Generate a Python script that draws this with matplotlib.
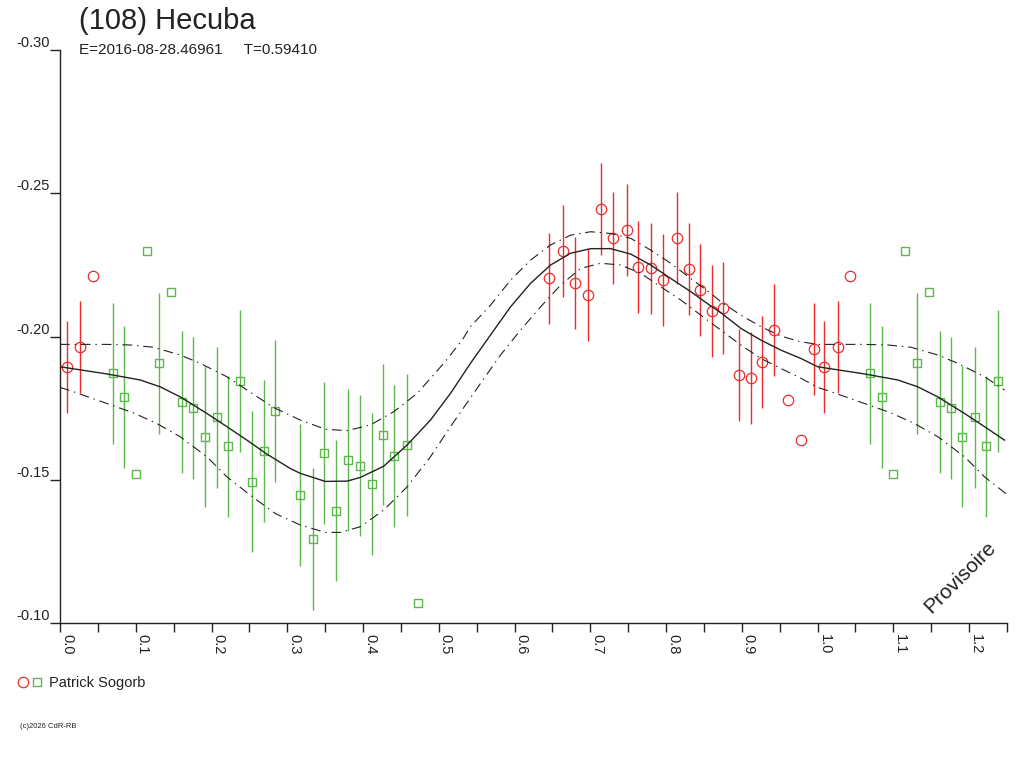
import matplotlib
matplotlib.use("Agg")
import matplotlib.pyplot as plt
import numpy as np
from matplotlib.legend_handler import HandlerTuple
from matplotlib.lines import Line2D

plt.rcParams['font.family'] = ['Liberation Sans', 'DejaVu Sans']
plt.rcParams['lines.scale_dashes'] = False

# donnees (phase 0..1, repliees ensuite sur 1..1.25)
red_phase = [0.0089, 0.0268, 0.0432, 0.6453, 0.6643, 0.6797, 0.6964, 0.7136, 0.7295,
             0.7484, 0.7635, 0.7797, 0.7960, 0.8145, 0.8299, 0.8445, 0.8603, 0.8753,
             0.8956, 0.9115, 0.9260, 0.9419, 0.9611, 0.9779, 0.9951]
red_mag = [-0.1895, -0.1963, -0.2212, -0.2203, -0.2300, -0.2188, -0.2146, -0.2445, -0.2343,
           -0.2372, -0.2242, -0.2238, -0.2197, -0.2345, -0.2235, -0.2163, -0.2090, -0.2099,
           -0.1867, -0.1857, -0.1912, -0.2023, -0.1779, -0.1638, -0.1958]
red_err = [0.016, 0.016, 0.0, 0.016, 0.016, 0.016, 0.016, 0.016, 0.016,
           0.016, 0.016, 0.016, 0.016, 0.016, 0.016, 0.016, 0.016, 0.016,
           0.016, 0.016, 0.016, 0.016, 0.0, 0.0, 0.016]

green_phase = [0.0696, 0.0850, 0.1000, 0.1154, 0.1312, 0.1471, 0.1612, 0.1762, 0.1912,
               0.2075, 0.2224, 0.2375, 0.2528, 0.2689, 0.2839, 0.3162, 0.3334, 0.3489,
               0.3643, 0.3802, 0.3965, 0.4123, 0.4269, 0.4414, 0.4576, 0.4731]
green_mag = [-0.1872, -0.1790, -0.1521, -0.2300, -0.1907, -0.2155, -0.1772, -0.1752, -0.1651,
             -0.1718, -0.1617, -0.1846, -0.1494, -0.1601, -0.1741, -0.1448, -0.1295, -0.1595,
             -0.1393, -0.1570, -0.1550, -0.1487, -0.1658, -0.1583, -0.1622, -0.1070]
green_err = [0.0247, 0.0247, 0.0, 0.0, 0.0247, 0.0, 0.0247, 0.0247, 0.0247,
             0.0247, 0.0247, 0.0247, 0.0247, 0.0247, 0.0247, 0.0247, 0.0247, 0.0247,
             0.0247, 0.0247, 0.0247, 0.0247, 0.0247, 0.0247, 0.0247, 0.0]

# courbe ajustee et enveloppe
fit_phase = [0.0, 0.0617, 0.1057, 0.1322, 0.1586, 0.1939, 0.2203, 0.2467, 0.2732, 0.3040,
             0.3172, 0.3502, 0.3789, 0.3965, 0.4273, 0.4582, 0.4890, 0.5154, 0.5418, 0.5683,
             0.5947, 0.6211, 0.6476, 0.6740, 0.7004, 0.7268, 0.7533, 0.7797, 0.8061, 0.8326,
             0.8590, 0.8722, 0.8986, 0.9251, 0.9515, 0.9779]
fit_mag = [-0.1895, -0.1870, -0.1849, -0.1825, -0.1790, -0.1732, -0.1686, -0.1639, -0.1590, -0.1540,
           -0.1523, -0.1495, -0.1496, -0.1509, -0.1548, -0.1622, -0.1709, -0.1802, -0.1907, -0.2006,
           -0.2104, -0.2186, -0.2250, -0.2291, -0.2307, -0.2307, -0.2288, -0.2250, -0.2203, -0.2157,
           -0.2107, -0.2084, -0.2029, -0.1988, -0.1953, -0.1924]

up_phase = [0.0, 0.0617, 0.0925, 0.1233, 0.1586, 0.1850, 0.2203, 0.2467, 0.2732, 0.2841,
            0.3172, 0.3502, 0.3789, 0.4097, 0.4405, 0.4714, 0.5065, 0.5309, 0.5418, 0.5683,
            0.5947, 0.6211, 0.6476, 0.6740, 0.7004, 0.7268, 0.7533, 0.7797, 0.8061, 0.8326,
            0.8590, 0.8722, 0.8986, 0.9251, 0.9515, 0.9779]
up_mag = [-0.1973, -0.1973, -0.1971, -0.1963, -0.1936, -0.1907, -0.1860, -0.1814, -0.1768, -0.1750,
          -0.1709, -0.1677, -0.1672, -0.1692, -0.1738, -0.1802, -0.1907, -0.1988, -0.2035, -0.2110,
          -0.2197, -0.2267, -0.2320, -0.2354, -0.2366, -0.2360, -0.2343, -0.2302, -0.2256, -0.2203,
          -0.2151, -0.2122, -0.2075, -0.2035, -0.2002, -0.1982]

low_phase = [0.0, 0.0176, 0.0617, 0.0969, 0.1278, 0.1586, 0.1939, 0.2203, 0.2511, 0.2841,
             0.3172, 0.3502, 0.3700, 0.3965, 0.4273, 0.4582, 0.4890, 0.5154, 0.5551, 0.5815,
             0.6079, 0.6344, 0.6608, 0.6872, 0.7136, 0.7400, 0.7665, 0.7929, 0.8193, 0.8458,
             0.8722, 0.8986, 0.9251, 0.9515, 0.9779]
low_mag = [-0.1823, -0.1808, -0.1767, -0.1734, -0.1697, -0.1651, -0.1581, -0.1511, -0.1447, -0.1383,
           -0.1343, -0.1317, -0.1317, -0.1337, -0.1395, -0.1476, -0.1581, -0.1686, -0.1837, -0.1936,
           -0.2023, -0.2104, -0.2180, -0.2238, -0.2256, -0.2250, -0.2221, -0.2174, -0.2128, -0.2075,
           -0.2023, -0.1971, -0.1924, -0.1889, -0.1855]


def wrap(ph, val, lim=0.26):
    # recopie la phase 0..lim sur 1..1+lim
    ph = np.array(ph)
    val = np.array(val)
    m = ph <= lim
    return np.concatenate([ph, ph[m] + 1.0]), np.concatenate([val, val[m]])


def wrap_err(ph, val, err, lim=0.25):
    ph = np.array(ph)
    val = np.array(val)
    err = np.array(err)
    m = ph <= lim
    return (np.concatenate([ph, ph[m] + 1.0]), np.concatenate([val, val[m]]),
            np.concatenate([err, err[m]]))


red_c = '#ee2b2b'
green_c = '#5cb84a'
ink = '#222222'

fig = plt.figure(figsize=(10.24, 7.68), dpi=100)
ax = fig.add_axes([60 / 1024, (768 - 623.3) / 768, (1007 - 60) / 1024, (623.3 - 50) / 768])

rx, ry, re = wrap_err(red_phase, red_mag, red_err)
gx, gy, ge = wrap_err(green_phase, green_mag, green_err)

ax.errorbar(gx, gy, yerr=ge, fmt='none', ecolor=green_c, elinewidth=1.0, capsize=0)
ax.errorbar(rx, ry, yerr=re, fmt='none', ecolor=red_c, elinewidth=1.0, capsize=0)
ax.plot(gx, gy, 's', ms=5.4, mfc='none', mec=green_c, mew=1.0, linestyle='none')
ax.plot(rx, ry, 'o', ms=7.5, mfc='none', mec=red_c, mew=0.9, linestyle='none')

fx, fy = wrap(fit_phase, fit_mag)
ux, uy = wrap(up_phase, up_mag)
lx, ly = wrap(low_phase, low_mag)
ax.plot(fx, fy, color=ink, lw=1.0)
ax.plot(ux, uy, color=ink, lw=0.8, dashes=(7, 3.5, 1, 3.5))
ax.plot(lx, ly, color=ink, lw=0.8, dashes=(7, 3.5, 1, 3.5))

ax.set_xlim(0, 1.25)
ax.set_ylim(-0.10, -0.30)
for s in ['top', 'right']:
    ax.spines[s].set_visible(False)
for s in ['left', 'bottom']:
    ax.spines[s].set_color(ink)
    ax.spines[s].set_linewidth(1.0)

ax.set_xticks(np.arange(0, 1.21, 0.1))
ax.set_xticks(np.arange(0.05, 1.26, 0.1), minor=True)
ax.set_xticklabels([f'{v:.1f}' for v in np.arange(0, 1.21, 0.1)])
ax.tick_params(axis='x', which='both', direction='out', length=6.5, width=1.0, color=ink)
ax.tick_params(axis='x', which='major', pad=1, labelsize=10.5, labelcolor=ink, labelrotation=270)
plt.setp(ax.get_xticklabels(), ha='left', va='top')

yt = [-0.30, -0.25, -0.20, -0.15, -0.10]
ax.set_yticks(yt)
ax.set_yticklabels([f'{v:.2f}' for v in yt])
ax.tick_params(axis='y', direction='out', length=7.2, width=1.0, color=ink, pad=0,
               labelsize=10.5, labelcolor=ink)
plt.setp(ax.get_yticklabels(), va='bottom')

fig.text(79 / 1024, 1 - 29 / 768, '(108) Hecuba', fontsize=21, color=ink, va='baseline')
fig.text(79 / 1024, 1 - 54 / 768, 'E=2016-08-28.46961     T=0.59410', fontsize=11,
         color=ink, va='baseline')

ax.text(0.9505, 0.08, 'Provisoire', transform=ax.transAxes, rotation=45, fontsize=15,
        color=ink, ha='center', va='center')

h_red = Line2D([], [], marker='o', ms=7.5, mfc='none', mec=red_c, mew=0.9, linestyle='none')
h_green = Line2D([], [], marker='s', ms=5.4, mfc='none', mec=green_c, mew=1.0, linestyle='none')
fig.legend([(h_red, h_green)], ['Patrick Sogorb'], handler_map={tuple: HandlerTuple(ndivide=None, pad=0.1)},
           loc='center left', bbox_to_anchor=(10 / 1024, 1 - 683 / 768), frameon=False,
           fontsize=10.5, handlelength=1.8, handletextpad=0.4, borderpad=0, labelcolor=ink)

fig.text(20 / 1024, 1 - 726 / 768, '(c)2026 CdR-RB', fontsize=5.5, color=ink, va='center')

fig.savefig('out.png', dpi=100)
